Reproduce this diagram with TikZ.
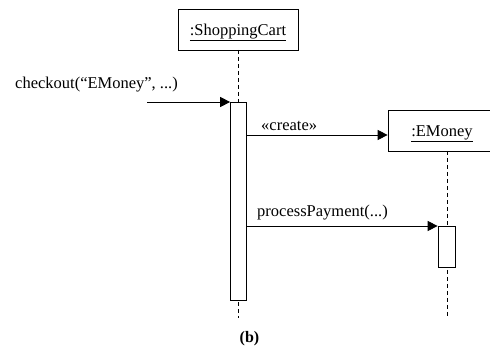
\documentclass[tikz,border=0pt]{standalone}
\usepackage{fontspec}
\setmainfont{Liberation Serif}
\usetikzlibrary{arrows.meta}
\begin{document}
\begin{tikzpicture}[x=1pt,y=-1pt,
  obj/.style={draw, line width=0.7pt, inner sep=0pt, text height=14pt, text depth=1.6pt, font=\fontsize{16.5}{18}\selectfont},
  act/.style={draw, fill=white, line width=0.7pt, inner sep=0pt},
  life/.style={draw, line width=0.7pt, dash pattern=on 4pt off 3pt},
  msg/.style={draw, line width=0.9pt, -{Triangle[length=10pt,width=10pt]}},
  lbl/.style={font=\fontsize{16.5}{18}\selectfont, inner sep=0pt}]
\useasboundingbox (0,0) rectangle (490,347);
\node[obj, minimum width=120pt, minimum height=41pt] (sc) at (238,29.5) {\underline{:ShoppingCart}};
\node[obj, minimum width=108pt, minimum height=41pt] (em) at (442,130.5) {\underline{:EMoney}};
\coordinate (sctop) at (238.5,50);
\coordinate (scend) at (238.5,318);
\coordinate (emtop) at (447,151);
\coordinate (emend) at (447,316);
\coordinate (start) at (147,102);
\draw[life] (sctop) -- (scend);
\draw[life] (emtop) -- (emend);
\node[act, minimum width=16pt, minimum height=198pt, anchor=north] (a1) at (238.5,102) {};
\node[act, minimum width=17pt, minimum height=41pt, anchor=north] (a2) at (446.5,226) {};
\draw[msg] (start) -- (a1.north west);
\node[lbl, anchor=base west] (l1) at (15,89) {checkout(“EMoney”, ...)};
\draw[msg] (a1.east |- 0,135) -- (em.west |- 0,135);
\node[lbl, anchor=base west] (l2) at (261,131) {«create»};
\draw[msg] (a1.east |- a2.north west) -- (a2.north west);
\node[lbl, anchor=base west] (l3) at (257,216.5) {processPayment(...)};
\node[font=\bfseries\fontsize{16}{18}\selectfont, anchor=base, inner sep=0pt] (cap) at (249.5,343) {(b)};
\end{tikzpicture}
\end{document}
